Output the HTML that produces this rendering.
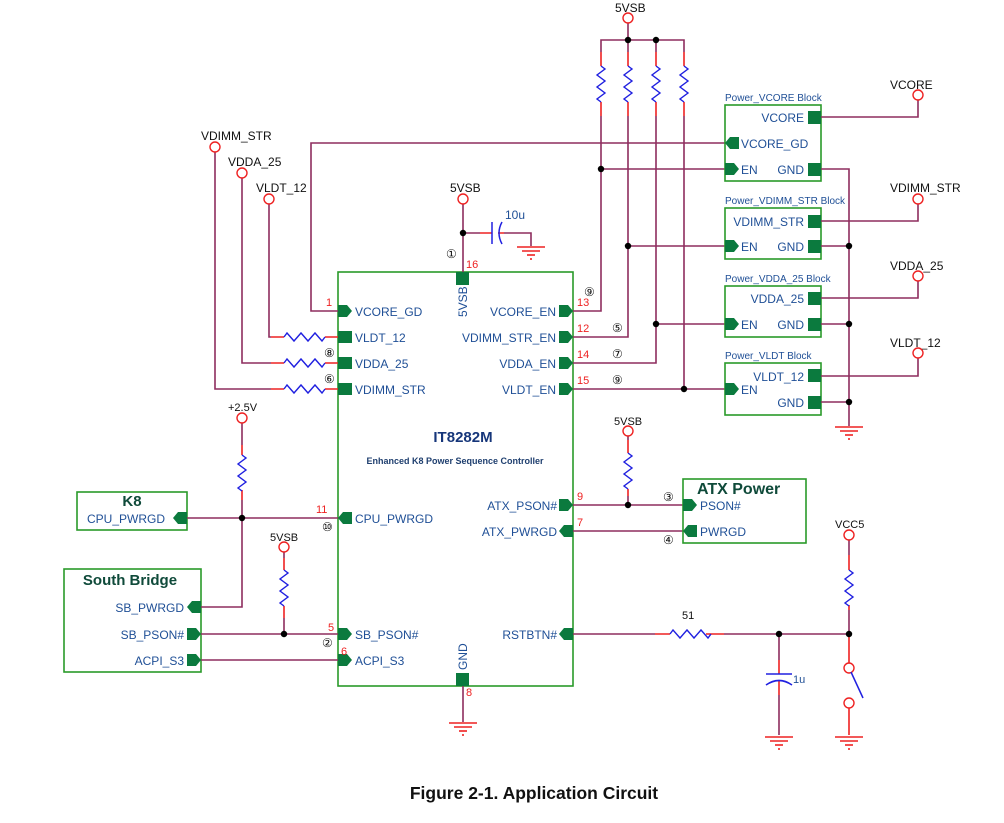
<!DOCTYPE html>
<html><head><meta charset="utf-8"><style>
html,body{margin:0;padding:0;background:#fff;}
svg{display:block;font-family:"Liberation Sans",Arial,sans-serif;}
.w{stroke:#8e2d5e;stroke-width:1.6;fill:none}
.r{stroke:#2020e0;stroke-width:1.4;fill:none}
.l{stroke:#ee2222;stroke-width:1.6;fill:none}
.b{stroke:#2a9a2a;stroke-width:1.6;fill:none}
.p{fill:#0b7a3e}
.t{fill:#1f4f96;font-size:12px}
.k{fill:#111;font-size:12px}
.n{fill:#ee2222;font-size:11px}
.c{fill:none;stroke:#ee2222;stroke-width:1.4}
.g{stroke:#ee2222;stroke-width:1.6}
.bt{fill:#1f4f96;font-size:10px}
</style></head><body>
<svg width="1004" height="823" viewBox="0 0 1004 823">
<defs>
<g id="gnd"><line class="g" x1="-14" y1="0" x2="14" y2="0"/><line class="g" x1="-9" y1="4" x2="9" y2="4"/><line class="g" x1="-4" y1="8" x2="4" y2="8"/><line class="g" x1="-1" y1="12" x2="1" y2="12"/></g>
<path id="rv" class="r" d="M0,0 l4,3 l-8,6 l8,6 l-8,6 l8,6 l-8,6 l4,3"/>
<path id="rh" class="r" d="M0,0 l3,-4 l7,8 l7,-8 l7,8 l7,-8 l7,8 l3,-4"/>
<circle id="term" r="5" class="c" fill="#fff"/>
<circle id="dot" r="3.2" fill="#000"/>
</defs>

<!-- main chip -->
<rect x="338" y="272" width="235" height="414" class="b"/>
<rect x="456" y="272" width="13" height="13" class="p"/>
<rect x="456" y="673" width="13" height="13" class="p"/>
<text x="467" y="317" class="t" transform="rotate(-90 467 317)">5VSB</text>
<text x="467" y="670" class="t" transform="rotate(-90 467 670)">GND</text>
<text x="463" y="442" text-anchor="middle" style="fill:#16367a;font-size:15px;font-weight:bold">IT8282M</text>
<text x="455" y="464" text-anchor="middle" style="fill:#1f3f6f;font-size:9px;font-weight:bold">Enhanced K8 Power Sequence Controller</text>

<!-- chip left pins -->
<polygon class="p" points="338,305 347,305 352,311 347,317 338,317"/>
<rect class="p" x="338" y="331" width="14" height="12"/>
<rect class="p" x="338" y="357" width="14" height="12"/>
<rect class="p" x="338" y="383" width="14" height="12"/>
<polygon class="p" points="352,512 343,512 338,518 343,524 352,524"/>
<polygon class="p" points="338,628 347,628 352,634 347,640 338,640"/>
<polygon class="p" points="338,654 347,654 352,660 347,666 338,666"/>
<text x="355" y="316" class="t">VCORE_GD</text>
<text x="355" y="342" class="t">VLDT_12</text>
<text x="355" y="368" class="t">VDDA_25</text>
<text x="355" y="394" class="t">VDIMM_STR</text>
<text x="355" y="523" class="t">CPU_PWRGD</text>
<text x="355" y="639" class="t">SB_PSON#</text>
<text x="355" y="665" class="t">ACPI_S3</text>
<!-- chip right pins -->
<polygon class="p" points="559,305 568,305 573,311 568,317 559,317"/>
<polygon class="p" points="559,331 568,331 573,337 568,343 559,343"/>
<polygon class="p" points="559,357 568,357 573,363 568,369 559,369"/>
<polygon class="p" points="559,383 568,383 573,389 568,395 559,395"/>
<polygon class="p" points="559,499 568,499 573,505 568,511 559,511"/>
<polygon class="p" points="573,525 564,525 559,531 564,537 573,537"/>
<polygon class="p" points="573,628 564,628 559,634 564,640 573,640"/>
<g class="t" text-anchor="end">
<text x="556" y="316">VCORE_EN</text>
<text x="556" y="342">VDIMM_STR_EN</text>
<text x="556" y="368">VDDA_EN</text>
<text x="556" y="394">VLDT_EN</text>
<text x="557" y="510">ATX_PSON#</text>
<text x="557" y="536">ATX_PWRGD</text>
<text x="557" y="639">RSTBTN#</text>
</g>
<g class="n">
<text x="326" y="306">1</text><text x="466" y="268">16</text>
<text x="577" y="306">13</text><text x="577" y="332">12</text><text x="577" y="358">14</text><text x="577" y="384">15</text>
<text x="316" y="513">11</text><text x="328" y="631">5</text><text x="341" y="655">6</text>
<text x="577" y="500">9</text><text x="577" y="526">7</text><text x="466" y="696">8</text>
</g>
<g class="k" style="font-size:12px">
<text x="446" y="258">①</text><text x="324" y="357">⑧</text><text x="324" y="383">⑥</text>
<text x="584" y="296">⑨</text><text x="612" y="332">⑤</text><text x="612" y="358">⑦</text><text x="612" y="384">⑨</text>
<text x="322" y="531">⑩</text><text x="322" y="647">②</text><text x="663" y="501">③</text><text x="663" y="544">④</text>
</g>

<!-- left inputs -->
<text x="201" y="140" class="k">VDIMM_STR</text>
<text x="228" y="166" class="k">VDDA_25</text>
<text x="256" y="192" class="k">VLDT_12</text>
<path class="w" d="M215,152 V389 H271 M242,178 V363 H271 M269,204 V337 H271"/>
<path class="l" d="M271,389 H284 M325,389 H338 M271,363 H284 M325,363 H338 M271,337 H284 M325,337 H338"/>
<use href="#rh" x="284" y="389"/><use href="#rh" x="284" y="363"/><use href="#rh" x="284" y="337"/>
<use href="#term" x="215" y="147"/><use href="#term" x="242" y="173"/><use href="#term" x="269" y="199"/>
<path class="w" d="M338,311 H311 V143 H725"/>

<!-- 5VSB cap -->
<text x="450" y="192" class="k">5VSB</text>
<path class="w" d="M463,204 V272"/>
<path class="w" d="M463,233 H480 M504,233 H531 V246"/>
<path class="l" d="M480,233 H492 M498,233 H504"/>
<line x1="492" y1="222" x2="492" y2="244" stroke="#2020e0" stroke-width="1.5"/>
<path d="M502,222 Q496,233 502,244" stroke="#2020e0" stroke-width="1.5" fill="none"/>
<text x="505" y="219" class="t">10u</text>
<use href="#gnd" x="531" y="247"/>
<use href="#dot" x="463" y="233"/><use href="#term" x="463" y="199"/>

<!-- top pullups -->
<text x="615" y="12" class="k">5VSB</text>
<path class="w" d="M628,23 V40 M601,52 V40 H684 V52"/>
<path class="w" d="M656,40 V52 M628,40 V52"/>
<path class="l" d="M601,52 V66 M628,52 V66 M656,52 V66 M684,52 V66 M601,102 V116 M628,102 V116 M656,102 V116 M684,102 V116"/>
<use href="#rv" x="601" y="66"/><use href="#rv" x="628" y="66"/><use href="#rv" x="656" y="66"/><use href="#rv" x="684" y="66"/>
<path class="w" d="M601,116 V311 H573 M628,116 V337 H573 M656,116 V363 H573 M684,116 V389 H573"/>
<path class="w" d="M601,169 H725 M628,246 H725 M656,324 H725 M684,389 H725"/>
<use href="#term" x="628" y="18"/>
<use href="#dot" x="628" y="40"/><use href="#dot" x="656" y="40"/>
<use href="#dot" x="601" y="169"/><use href="#dot" x="628" y="246"/><use href="#dot" x="656" y="324"/><use href="#dot" x="684" y="389"/>

<!-- power blocks -->
<g class="bt">
<text x="725" y="101">Power_VCORE Block</text>
<text x="725" y="204">Power_VDIMM_STR Block</text>
<text x="725" y="282">Power_VDDA_25 Block</text>
<text x="725" y="359">Power_VLDT Block</text>
</g>
<rect x="725" y="105" width="96" height="76" class="b"/>
<rect x="725" y="208" width="96" height="51" class="b"/>
<rect x="725" y="286" width="96" height="51" class="b"/>
<rect x="725" y="363" width="96" height="52" class="b"/>
<rect class="p" x="808" y="111" width="13" height="13"/>
<polygon class="p" points="739,137 730,137 725,143 730,149 739,149"/>
<polygon class="p" points="725,163 734,163 739,169 734,175 725,175"/>
<rect class="p" x="808" y="163" width="13" height="13"/>
<rect class="p" x="808" y="215" width="13" height="13"/>
<polygon class="p" points="725,240 734,240 739,246 734,252 725,252"/>
<rect class="p" x="808" y="240" width="13" height="13"/>
<rect class="p" x="808" y="292" width="13" height="13"/>
<polygon class="p" points="725,318 734,318 739,324 734,330 725,330"/>
<rect class="p" x="808" y="318" width="13" height="13"/>
<rect class="p" x="808" y="369" width="13" height="13"/>
<polygon class="p" points="725,383 734,383 739,389 734,395 725,395"/>
<rect class="p" x="808" y="396" width="13" height="13"/>
<g class="t">
<text x="804" y="122" text-anchor="end">VCORE</text>
<text x="741" y="148">VCORE_GD</text>
<text x="741" y="174">EN</text><text x="804" y="174" text-anchor="end">GND</text>
<text x="804" y="226" text-anchor="end">VDIMM_STR</text>
<text x="741" y="251">EN</text><text x="804" y="251" text-anchor="end">GND</text>
<text x="804" y="303" text-anchor="end">VDDA_25</text>
<text x="741" y="329">EN</text><text x="804" y="329" text-anchor="end">GND</text>
<text x="804" y="381" text-anchor="end">VLDT_12</text>
<text x="741" y="394">EN</text><text x="804" y="407" text-anchor="end">GND</text>
</g>
<path class="w" d="M821,169 H849 V426 M821,246 H849 M821,324 H849 M821,402 H849"/>
<use href="#dot" x="849" y="246"/><use href="#dot" x="849" y="324"/><use href="#dot" x="849" y="402"/>
<use href="#gnd" x="849" y="427"/>
<path class="w" d="M821,117 H918 V100 M821,221 H918 V204 M821,298 H918 V281 M821,376 H918 V358"/>
<g class="k"><text x="890" y="89">VCORE</text><text x="890" y="192">VDIMM_STR</text><text x="890" y="270">VDDA_25</text><text x="890" y="347">VLDT_12</text></g>
<use href="#term" x="918" y="95"/><use href="#term" x="918" y="199"/><use href="#term" x="918" y="276"/><use href="#term" x="918" y="353"/>

<!-- K8 & south bridge -->
<rect x="77" y="492" width="110" height="38" class="b"/>
<text x="132" y="506" text-anchor="middle" style="fill:#0f4a3a;font-size:15px;font-weight:bold">K8</text>
<text x="87" y="523" class="t">CPU_PWRGD</text>
<polygon class="p" points="187,512 178,512 173,518 178,524 187,524"/>
<rect x="64" y="569" width="137" height="103" class="b"/>
<text x="130" y="585" text-anchor="middle" style="fill:#0f4a3a;font-size:15px;font-weight:bold">South Bridge</text>
<polygon class="p" points="201,601 192,601 187,607 192,613 201,613"/>
<polygon class="p" points="187,628 196,628 201,634 196,640 187,640"/>
<polygon class="p" points="187,654 196,654 201,660 196,666 187,666"/>
<g class="t" text-anchor="end"><text x="184" y="612">SB_PWRGD</text><text x="184" y="639">SB_PSON#</text><text x="184" y="665">ACPI_S3</text></g>
<text x="228" y="411" class="k" style="font-size:11px">+2.5V</text>
<path class="w" d="M242,423 V445 M242,500 V607 H201 M187,518 H338"/>
<path class="l" d="M242,445 V455 M242,490 V500"/>
<use href="#rv" x="242" y="455"/>
<use href="#term" x="242" y="418"/><use href="#dot" x="242" y="518"/>
<text x="270" y="541" class="k" style="font-size:11px">5VSB</text>
<path class="w" d="M284,552 V558 M284,618 V634 M201,634 H338 M201,660 H338"/>
<path class="l" d="M284,558 V570 M284,606 V618"/>
<use href="#rv" x="284" y="570"/>
<use href="#term" x="284" y="547"/><use href="#dot" x="284" y="634"/>

<!-- chip GND -->
<path class="w" d="M463,686 V722"/>
<use href="#gnd" x="463" y="723"/>

<!-- ATX -->
<text x="614" y="425" class="k" style="font-size:11px">5VSB</text>
<path class="w" d="M628,436 V440 M628,496 V505 M573,505 H683 M573,531 H683"/>
<path class="l" d="M628,440 V453 M628,489 V496"/>
<use href="#rv" x="628" y="453"/>
<use href="#term" x="628" y="431"/><use href="#dot" x="628" y="505"/>
<rect x="683" y="479" width="123" height="64" class="b"/>
<text x="697" y="494" style="fill:#0f4a3a;font-size:16px;font-weight:bold">ATX Power</text>
<polygon class="p" points="683,499 692,499 697,505 692,511 683,511"/>
<polygon class="p" points="697,525 688,525 683,531 688,537 697,537"/>
<g class="t"><text x="700" y="510">PSON#</text><text x="700" y="536">PWRGD</text></g>

<!-- reset -->
<path class="w" d="M573,634 H655 M724,634 H849"/>
<path class="l" d="M655,634 H670 M706,634 H724"/>
<use href="#rh" x="670" y="634"/>
<text x="682" y="619" class="k" style="font-size:11px">51</text>
<path class="w" d="M779,634 V660 M779,695 V735"/>
<path class="l" d="M779,660 V674 M779,680 V695"/>
<line x1="766" y1="674" x2="792" y2="674" stroke="#2020e0" stroke-width="1.6"/>
<path d="M766,685 Q779,676 792,685" stroke="#2020e0" stroke-width="1.6" fill="none"/>
<text x="793" y="683" class="t" style="font-size:11px">1u</text>
<use href="#gnd" x="779" y="737"/>
<text x="835" y="528" class="k" style="font-size:11px">VCC5</text>
<path class="w" d="M849,540 V555 M849,610 V634"/>
<path class="l" d="M849,555 V570 M849,605 V610 M849,634 V663 M849,708 V735"/>
<use href="#rv" x="849" y="570"/>
<use href="#term" x="849" y="535"/>
<use href="#dot" x="779" y="634"/><use href="#dot" x="849" y="634"/>
<use href="#term" x="849" y="668"/><use href="#term" x="849" y="703"/>
<line x1="851" y1="672" x2="863" y2="698" stroke="#2020e0" stroke-width="1.5"/>
<use href="#gnd" x="849" y="737"/>

<text x="534" y="799" text-anchor="middle" style="fill:#111;font-size:17.5px;font-weight:bold">Figure 2-1. Application Circuit</text>
</svg>
</body></html>
